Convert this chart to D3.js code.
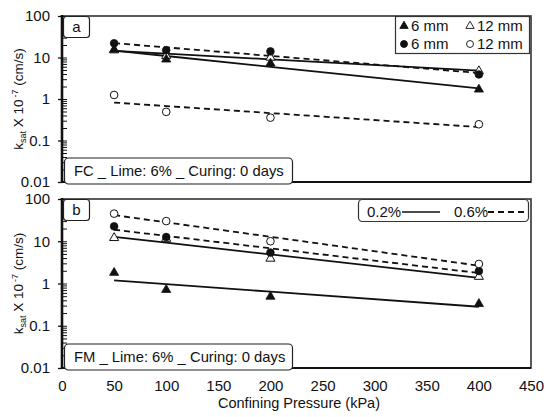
<!DOCTYPE html>
<html>
<head>
<meta charset="utf-8">
<script src="https://cdn.jsdelivr.net/npm/d3@7"></script>
<style>
  body { margin: 0; background: #fff; }
  svg { font-family: "Liberation Sans", Arial, sans-serif; }
</style>
</head>
<body>
<script>
// confining pressures (kPa)
var pressure = [50, 100, 200, 400]
var xTicks = [0, 50, 100, 150, 200, 250, 300, 350, 400, 450]
var yTicks = [0.01, 0.1, 1, 10, 100]

// panel a: FC, ksat x 10^-7 cm/s
var aTri6 = [15.5, 9, 7.2, 1.7]      // 6 mm, 0.2%
var aTri12 = [15, 11, 10, 4.7]       // 12 mm, 0.2%
var aDot6 = [22, 15, 14, 3.9]        // 6 mm, 0.6%
var aCirc12 = [1.25, 0.49, 0.355, 0.246] // 12 mm, 0.6%

// panel b: FM
var bTri6 = [1.8, 0.71, 0.49, 0.33]
var bTri12 = [12, 11.5, 3.9, 1.45]
var bDot6 = [22.5, 12.6, 5.4, 1.97]
var bCirc12 = [45, 30, 10, 2.9]

var width = 550, height = 417
var ink = '#111'

var svg = d3.select('body').append('svg').attr('width', width).attr('height', height)

var x = d3.scaleLinear().domain([0, 450]).range([62, 531])

// minor ticks for log axis
var minorTicks = []
for (var k = -2; k < 2; k++) {
  for (var m = 2; m < 10; m++) minorTicks.push(m * Math.pow(10, k))
}

var panels = [
  { id: 'a', top: 16, bottom: 182, note: 'FC _ Lime: 6% _ Curing: 0 days', showX: false,
    series: [
      { v: aTri12, shape: 'tri', filled: false, dash: null },
      { v: aTri6, shape: 'tri', filled: true, dash: null },
      { v: aDot6, shape: 'circle', filled: true, dash: '6,4' },
      { v: aCirc12, shape: 'circle', filled: false, dash: '6,4' }
    ] },
  { id: 'b', top: 199, bottom: 368, note: 'FM _ Lime: 6% _ Curing: 0 days', showX: true,
    series: [
      { v: bTri12, shape: 'tri', filled: false, dash: null },
      { v: bTri6, shape: 'tri', filled: true, dash: null },
      { v: bDot6, shape: 'circle', filled: true, dash: '6,4' },
      { v: bCirc12, shape: 'circle', filled: false, dash: '6,4' }
    ] }
]

// exponential trend (least squares on ln y)
function trend(xs, ys) {
  var ly = ys.map(Math.log)
  var mx = d3.mean(xs), my = d3.mean(ly)
  var sxy = d3.sum(xs, (d, i) => (d - mx) * (ly[i] - my))
  var sxx = d3.sum(xs, d => (d - mx) * (d - mx))
  var b = sxy / sxx, a = my - b * mx
  return xs.map(d => [d, Math.exp(a + b * d)])
}

function marker(shape, size) {
  return d3.symbol().type(shape === 'tri' ? d3.symbolTriangle : d3.symbolCircle).size(size)()
}

panels.forEach(function(p) {
  var y = d3.scaleLog().domain([0.01, 100]).range([p.bottom, p.top])
  var g = svg.append('g')

  // frame
  g.append('rect')
    .attr('x', x(0)).attr('y', p.top)
    .attr('width', x(450) - x(0)).attr('height', p.bottom - p.top)
    .attr('fill', 'none').attr('stroke', '#333').attr('stroke-width', 1.6)

  // trend lines
  var line = d3.line().x(d => x(d[0])).y(d => y(d[1]))
  p.series.forEach(function(s) {
    g.append('path').attr('d', line(trend(pressure, s.v)))
      .attr('fill', 'none').attr('stroke', ink).attr('stroke-width', 1.8)
      .attr('stroke-dasharray', s.dash)
  })

  // points
  p.series.forEach(function(s) {
    g.selectAll(null).data(s.v).enter().append('path')
      .attr('d', marker(s.shape, s.shape === 'tri' ? 36 : 46))
      .attr('transform', (d, i) => `translate(${x(pressure[i])},${y(d)})`)
      .attr('fill', s.filled ? ink : '#fff')
      .attr('stroke', ink).attr('stroke-width', s.filled ? 0.8 : 1)
  })

  // y axis: outside major ticks with labels, inside ticks for all
  var yAxis = g.append('g').attr('transform', `translate(${x(0)},0)`)
    .call(d3.axisLeft(y).tickValues(yTicks).tickFormat(d3.format('~g')).tickSize(4).tickPadding(8))
  yAxis.select('.domain').remove()
  yAxis.selectAll('text').attr('font-size', 15).attr('fill', ink).attr('font-family', null)
  yAxis.selectAll('line').attr('stroke', ink).attr('stroke-width', 1.3)

  var yIn = g.append('g').attr('transform', `translate(${x(0)},0)`)
    .call(d3.axisRight(y).tickValues(minorTicks.concat(yTicks)).tickSize(5).tickFormat(''))
  yIn.select('.domain').remove()
  yIn.selectAll('line').attr('stroke', ink).attr('stroke-width', 1)

  g.append('line').attr('x1', x(0)).attr('x2', x(0)).attr('y1', p.top - 1).attr('y2', p.bottom + 1)
    .attr('stroke', ink).attr('stroke-width', 2.6)
  g.append('line').attr('x1', x(0)).attr('x2', x(450)).attr('y1', p.bottom).attr('y2', p.bottom)
    .attr('stroke', ink).attr('stroke-width', 2.2)

  if (p.showX) {
    var xAxis = g.append('g').attr('transform', `translate(0,${p.bottom})`)
      .call(d3.axisBottom(x).tickValues(xTicks).tickSize(0).tickPadding(12))
    xAxis.select('.domain').remove()
    xAxis.selectAll('text').attr('font-size', 15).attr('fill', ink).attr('font-family', null)
  }

  // panel letter box
  g.append('rect').attr('x', 63.5).attr('y', p.top + 0.5).attr('width', 26).attr('height', 21)
    .attr('rx', 3).attr('fill', '#fff').attr('stroke', '#222').attr('stroke-width', 1.2)
  g.append('text').attr('x', 76.5).attr('y', p.top + 16).attr('text-anchor', 'middle')
    .attr('font-size', 15).attr('fill', ink).text(p.id)

  // condition note box
  g.append('rect').attr('x', 64.5).attr('y', p.bottom - 24).attr('width', 228).attr('height', 26)
    .attr('rx', 4).attr('fill', '#fff').attr('stroke', '#222').attr('stroke-width', 1.2)
  g.append('text').attr('x', 74).attr('y', p.bottom - 6.5)
    .attr('font-size', 14.8).attr('fill', ink).text(p.note)

  // y title
  var yt = g.append('text')
    .attr('transform', `translate(23,${(p.top + p.bottom) / 2}) rotate(-90)`)
    .attr('text-anchor', 'middle').attr('font-size', 13.5).attr('fill', ink)
  yt.append('tspan').text('k')
  yt.append('tspan').attr('font-size', 9).attr('dy', 3).text('sat')
  yt.append('tspan').attr('dy', -3).text(' X 10')
  yt.append('tspan').attr('font-size', 9).attr('dx', 2).attr('dy', -5).text('-7')
  yt.append('tspan').attr('dy', 5).text(' (cm/s)')
})

// legend, panel a (markers)
var legA = svg.append('g')
legA.append('rect').attr('x', 395.5).attr('y', 16.5).attr('width', 134).attr('height', 37)
  .attr('fill', '#fff').attr('stroke', '#333').attr('stroke-width', 1.2)
var legItems = [
  { shape: 'tri', filled: true, label: '6 mm', lx: 404, ly: 26 },
  { shape: 'tri', filled: false, label: '12 mm', lx: 470, ly: 26 },
  { shape: 'circle', filled: true, label: '6 mm', lx: 404, ly: 44 },
  { shape: 'circle', filled: false, label: '12 mm', lx: 470, ly: 44 }
]
legItems.forEach(function(d) {
  legA.append('path').attr('d', marker(d.shape, d.shape === 'tri' ? 30 : 38))
    .attr('transform', `translate(${d.lx},${d.ly})`)
    .attr('fill', d.filled ? ink : '#fff').attr('stroke', ink).attr('stroke-width', 0.9)
  legA.append('text').attr('x', d.lx + 7).attr('y', d.ly + 5)
    .attr('font-size', 15).attr('fill', ink).text(d.label)
})

// legend, panel b (line styles)
var legB = svg.append('g')
legB.append('rect').attr('x', 358.5).attr('y', 199.5).attr('width', 170).attr('height', 22)
  .attr('rx', 4).attr('fill', '#fff').attr('stroke', '#333').attr('stroke-width', 1.2)
legB.append('text').attr('x', 367).attr('y', 217).attr('font-size', 15).attr('fill', ink).text('0.2%')
legB.append('line').attr('x1', 402).attr('x2', 440).attr('y1', 212).attr('y2', 212)
  .attr('stroke', ink).attr('stroke-width', 1.6)
legB.append('text').attr('x', 454).attr('y', 217).attr('font-size', 15).attr('fill', ink).text('0.6%')
legB.append('line').attr('x1', 488).attr('x2', 528).attr('y1', 212).attr('y2', 212)
  .attr('stroke', ink).attr('stroke-width', 1.8).attr('stroke-dasharray', '6,4')

// x title
svg.append('text').attr('x', 299).attr('y', 408).attr('text-anchor', 'middle')
  .attr('font-size', 14.5).attr('fill', ink).text('Confining Pressure (kPa)')
</script>
</body>
</html>
